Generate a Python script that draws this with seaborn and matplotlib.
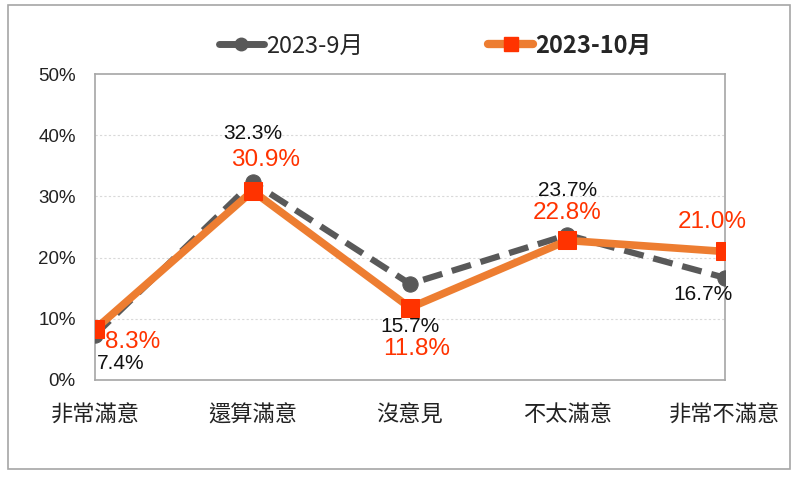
import matplotlib
matplotlib.use("Agg")
import matplotlib.pyplot as plt
import seaborn as sns
import pandas as pd
from matplotlib.patches import Rectangle
from matplotlib.lines import Line2D

categories = ["非常滿意", "還算滿意", "沒意見", "不太滿意", "非常不滿意"]
sep_values = [7.4, 32.3, 15.7, 23.7, 16.7]
oct_values = [8.3, 30.9, 11.8, 22.8, 21.0]
series_names = ["2023-9月", "2023-10月"]
yticks = [0, 10, 20, 30, 40, 50]

sns.set_theme(style="white")
plt.rcParams['font.family'] = ['Noto Sans CJK TC', 'DejaVu Sans']
num_font = ['Liberation Sans', 'DejaVu Sans']

df = pd.DataFrame({
    "cat": categories * 2,
    "x": list(range(len(categories))) * 2,
    "value": sep_values + oct_values,
    "series": [series_names[0]] * 5 + [series_names[1]] * 5,
})

fig = plt.figure(figsize=(8.0, 4.79), dpi=100)
fig.patch.set_facecolor("white")
ax = fig.add_axes([0.119, 0.207, 0.787, 0.638])

gray = "#595959"
orange = "#ED7D31"
red = "#FF3300"

d9 = df[df.series == series_names[0]]
d10 = df[df.series == series_names[1]]
sns.lineplot(data=d9, x="x", y="value", ax=ax, color=gray, lw=4.5,
             dashes=False, linestyle=(0, (3.2, 1.6)), marker="o", markersize=11,
             markeredgecolor=gray, markerfacecolor=gray, legend=False, zorder=3)
sns.lineplot(data=d10, x="x", y="value", ax=ax, color=orange, lw=5.5,
             marker="s", markersize=13, markeredgecolor=red, markerfacecolor=red,
             legend=False, zorder=4)

ax.set_xlim(0, 4)
ax.set_ylim(0, 50)
ax.set_yticks(yticks)
ax.set_yticklabels([f"{t}%" for t in yticks], fontsize=13.5, color="#222222",
                   family=num_font)
ax.set_xticks(range(5))
ax.set_xticklabels(categories, fontsize=16, color="#222222")
ax.tick_params(axis="x", length=5, color="#bfbfbf", pad=17, direction="in")
ax.tick_params(axis="y", length=0, pad=14)
for t in [10, 20, 30, 40]:
    ax.axhline(t, color="#d9d9d9", lw=0.8, ls=(0, (2, 2)), zorder=1)
for s in ax.spines.values():
    s.set_color("#a6a6a6")
    s.set_linewidth(1.2)
ax.set_xlabel("")
ax.set_ylabel("")

# label offsets (points)
sep_off = [(18, -21), (0, 35), (0, -31), (0, 32), (-16, -12)]
oct_off = [(27, -9), (9, 22), (5, -30), (0, 20), (-9, 21)]
for i in range(5):
    ax.annotate(f"{sep_values[i]:.1f}%", (i, sep_values[i]), xytext=sep_off[i],
                textcoords="offset points", ha="center", va="center",
                fontsize=15, color="#111111", zorder=6, annotation_clip=False,
                family=num_font)
    ax.annotate(f"{oct_values[i]:.1f}%", (i, oct_values[i]), xytext=oct_off[i],
                textcoords="offset points", ha="center", va="center",
                fontsize=17.5, color=red, zorder=6, annotation_clip=False,
                family=num_font)

# legend
h9 = Line2D([], [], color=gray, lw=5, marker="o", markersize=9,
            markerfacecolor=gray, markeredgecolor=gray, solid_capstyle="round")
h10 = Line2D([], [], color=orange, lw=6, marker="s", markersize=10,
             markerfacecolor=red, markeredgecolor=red, solid_capstyle="round")
leg = fig.legend([h9, h10], series_names, loc="center", bbox_to_anchor=(0.544, 0.905),
                 ncol=2, frameon=False, fontsize=17, handlelength=1.9,
                 handletextpad=0.1, columnspacing=5.3)
leg.get_texts()[1].set_fontweight("bold")

# outer border
fig.patches.append(Rectangle((0.01, 0.021), 0.978, 0.968, transform=fig.transFigure,
                             fill=False, edgecolor="#a6a6a6", lw=1.2))

fig.savefig("out.png", dpi=100, facecolor="white")
